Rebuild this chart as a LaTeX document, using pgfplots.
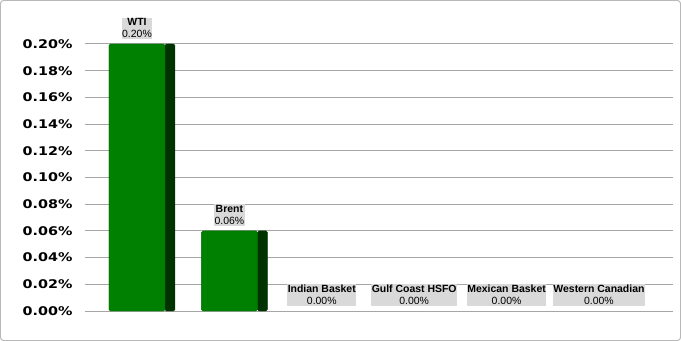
\documentclass[border=0pt]{standalone}
\usepackage{pgfplots}
\pgfplotsset{compat=1.18}
\usepackage{fontspec}
\setmainfont{Liberation Sans}
\newfontfamily\tickfont[FakeStretch=1.2]{DejaVu Sans}
\definecolor{barfront}{RGB}{0,128,0}
\definecolor{barside}{RGB}{0,51,0}
\definecolor{gridc}{RGB}{166,166,166}
\definecolor{lblbg}{RGB}{217,217,217}
\begin{document}
\begin{tikzpicture}
\begin{axis}[
  scale only axis, width=568bp, height=267bp,
  xmin=-0.4545, xmax=5.693, ymin=0, ymax=0.2,
  xtick=\empty,
  ytick={0,0.02,0.04,0.06,0.08,0.10,0.12,0.14,0.16,0.18,0.20},
  scaled y ticks=false,
  ymajorgrids, grid style={gridc, line width=1bp},
  axis line style={draw=none},
  tick align=outside, major tick length=10bp,
  ytick style={gridc, line width=1bp},
  yticklabel={\pgfmathprintnumber[fixed,fixed zerofill,precision=2]{\tick}\%},
  yticklabel style={font=\tickfont\bfseries\fontsize{12}{13}\selectfont, xshift=-9bp, /pgf/number format/assume math mode=true},
  clip=false,
]
\addplot[ybar, bar width=10bp, bar shift=33bp, fill=barside, draw=barside, rounded corners=1.5bp] coordinates {(0,0.20) (1,0.06)};
\addplot[ybar, bar width=56bp, bar shift=0pt, fill=barfront, draw=barfront!85!black, rounded corners=1.5bp] coordinates {(0,0.20) (1,0.06)};
\addplot[draw=none, mark=none, nodes near coords, point meta=explicit symbolic,
  nodes near coords style={anchor=south, yshift=5bp, fill=lblbg, inner xsep=0.5bp, inner ysep=1bp, align=center, font=\fontsize{10.5}{12}\selectfont}]
  coordinates {
  (0,0.20) [\textbf{WTI}\\0.20\%]
  (1,0.06) [\textbf{Brent}\\0.06\%]
  (2,0) [\textbf{Indian Basket}\\0.00\%]
  (3,0) [\textbf{Gulf Coast HSFO}\\0.00\%]
  (4,0) [\textbf{Mexican Basket}\\0.00\%]
  (5,0) [\textbf{Western Canadian}\\0.00\%]
};
\end{axis}
\draw[gridc!80, line width=1bp, rounded corners=3bp] ([shift={(-94.5bp,-29.5bp)}]current axis.south west) rectangle ([shift={(585.5bp,310.5bp)}]current axis.south west);
\end{tikzpicture}
\end{document}
